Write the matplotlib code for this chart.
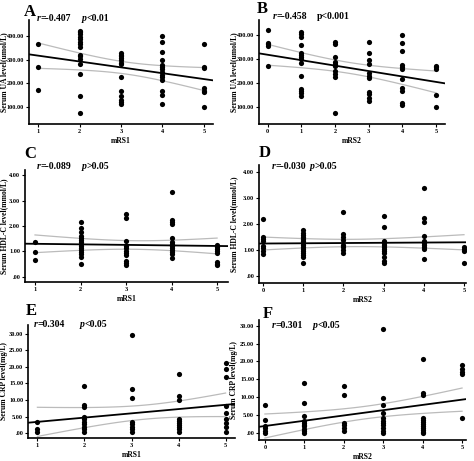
import matplotlib
matplotlib.use("Agg")
import matplotlib.pyplot as plt
import numpy as np

plt.rcParams['font.family'] = ['Liberation Serif', 'DejaVu Serif']
plt.rcParams['font.weight'] = 'bold'

# ---- data (one list of y values per mRS group) ----
# A: mRS1 vs serum UA
a_x = [1, 2, 3, 4, 5]
a_y = [
    [365, 270, 172],
    [422, 415, 408, 397, 386, 375, 366, 355, 321, 313, 301, 280, 238, 146, 76],
    [327, 321, 315, 308, 299, 287, 280, 228, 168, 146, 130, 120, 113],
    [401, 375, 334, 299, 275, 268, 259, 249, 235, 225, 214, 168, 149, 113],
    [366, 270, 263, 179, 169, 161, 99],
]
# B: mRS2 vs serum UA
b_x = [0, 1, 2, 3, 4, 5]
b_y = [
    [421, 368, 362, 354, 271],
    [414, 404, 393, 358, 324, 317, 310, 299, 282, 229, 175, 168, 160, 146],
    [372, 362, 310, 289, 279, 271, 251, 237, 226, 76],
    [372, 324, 296, 278, 240, 229, 219, 164, 154, 139, 126],
    [400, 365, 333, 275, 268, 257, 215, 178, 168, 115, 108],
    [272, 265, 257, 150, 99],
]
# C: mRS1 vs HDL-C
c_x = [1, 2, 3, 4, 5]
c_y = [
    [1.39, 0.97, 0.67],
    [2.17, 1.91, 1.78, 1.61, 1.52, 1.44, 1.36, 1.28, 1.20, 1.12, 1.05, 0.97, 0.89, 0.80, 0.50],
    [2.47, 2.30, 1.41, 1.23, 1.12, 1.02, 0.93, 0.86, 0.63, 0.54, 0.47],
    [3.35, 2.24, 2.17, 2.08, 1.54, 1.39, 1.29, 1.22, 1.12, 1.05, 0.97, 0.89, 0.73],
    [1.25, 1.18, 1.10, 1.02, 0.94, 0.60, 0.52, 0.47],
]
# D: mRS2 vs HDL-C
d_x = [0, 1, 2, 3, 4, 5]
d_y = [
    [2.18, 1.49, 1.41, 1.33, 1.15, 1.06, 0.97, 0.85],
    [1.77, 1.67, 1.56, 1.49, 1.41, 1.33, 1.26, 1.18, 1.10, 1.03, 0.95, 0.87, 0.79, 0.72, 0.51],
    [2.47, 1.60, 1.49, 1.38, 1.19, 1.10, 0.99, 0.90],
    [2.31, 1.90, 1.33, 1.26, 1.18, 1.10, 1.03, 0.95, 0.87, 0.74, 0.59, 0.51],
    [3.37, 2.22, 2.09, 1.54, 1.33, 1.26, 1.18, 1.10, 1.03, 0.64],
    [1.13, 1.05, 0.97, 0.51],
]
# E: mRS1 vs CRP
e_x = [1, 2, 3, 4, 5]
e_y = [
    [3.4, 1.1, 0.4],
    [14.2, 8.4, 7.8, 5.0, 4.1, 3.4, 2.7, 1.9, 1.1, 0.4],
    [29.7, 13.2, 10.7, 3.4, 2.7, 1.9, 1.1, 0.4],
    [17.9, 11.2, 10.0, 4.4, 3.7, 3.1, 2.4, 1.7, 1.1, 0.4],
    [21.1, 19.3, 17.1, 8.2, 6.0, 4.4, 2.9, 1.7, 0.4],
]
# F: mRS2 vs CRP
f_x = [0, 1, 2, 3, 4, 5]
f_y = [
    [7.7, 3.6, 2.0, 1.3, 0.6, 0.1],
    [13.9, 8.3, 4.8, 3.2, 2.7, 2.2, 1.8, 1.1, 0.4, 0.1],
    [13.0, 10.5, 2.7, 2.1, 1.3, 0.6],
    [29.2, 9.7, 7.9, 5.7, 4.1, 3.4, 2.7, 2.1, 1.3, 0.6, 0.1],
    [20.7, 11.1, 10.7, 4.1, 3.6, 3.0, 2.4, 1.9, 1.3, 0.7, 0.2, 0.1],
    [18.9, 17.9, 17.0, 16.4, 4.1],
]

panels = [
    dict(letter="A", gx=a_x, gy=a_y, r="=-0.407", p="<0.01", p_italic=True,
         ylabel="Serum UA level(umol/L)", xlabel="mRS1", yticks=[100, 200, 300, 400]),
    dict(letter="B", gx=b_x, gy=b_y, r="=-0.458", p="p<0.001", p_italic=False,
         ylabel="Serum UA level(umol/L)", xlabel="mRS2", yticks=[100, 200, 300, 400]),
    dict(letter="C", gx=c_x, gy=c_y, r="=-0.089", p=">0.05", p_italic=True,
         ylabel="Serum HDL-C level(mmol/L)", xlabel="mRS1", yticks=[0, 1, 2, 3, 4]),
    dict(letter="D", gx=d_x, gy=d_y, r="=-0.030", p=">0.05", p_italic=True,
         ylabel="Serum HDL-C level(mmol/L)", xlabel="mRS2", yticks=[0, 1, 2, 3, 4]),
    dict(letter="E", gx=e_x, gy=e_y, r="=0.304", p="<0.05", p_italic=True,
         ylabel="Serum CRP level(mg/L)", xlabel="mRS1", yticks=[0, 5, 10, 15, 20, 25, 30]),
    dict(letter="F", gx=f_x, gy=f_y, r="=0.301", p="<0.05", p_italic=True,
         ylabel="Serum CRP level(mg/L)", xlabel="mRS2", yticks=[0, 5, 10, 15, 20, 25, 30]),
]

# layout in pixels: (left, top, right, bottom), limits, text positions
W, H = 474, 461
boxes = [(29, 20, 213, 124), (259, 20, 445, 124),
         (25, 170, 228, 282), (259, 165, 466, 283),
         (28, 325, 235, 438), (259, 320, 466, 440)]
xlims = [(0.78, 5.22), (-0.26, 5.27), (0.78, 5.24), (-0.1, 5.05), (0.8, 5.2), (-0.15, 5.1)]
ylims = [(28, 467), (29, 462), (-0.2, 4.2), (-0.27, 4.27), (-1.5, 32.7), (-2, 31.6)]
letter_pos = [(24, 16), (257, 13), (24, 158), (259, 157), (26, 315), (263, 318)]
stat_pos = [(37, 82, 21), (273, 317, 19), (37, 82, 169), (272, 310, 169), (34, 80, 327), (272, 313, 328)]
ylabel_x = [4, 234, 4, 234, 4, 234]


def fmt(v):
    s = "%.2f" % v
    return s[1:] if s.startswith("0.") else s


fig = plt.figure(figsize=(W / 100, H / 100), dpi=100)

for pnl, (l, t, r, b), xl, yl, (lx, ly), (rx, px, sy), ylx in zip(
        panels, boxes, xlims, ylims, letter_pos, stat_pos, ylabel_x):
    ax = fig.add_axes([l / W, 1 - b / H, (r - l) / W, (b - t) / H])
    xs = np.concatenate([[g] * len(v) for g, v in zip(pnl["gx"], pnl["gy"])]).astype(float)
    ys = np.concatenate(pnl["gy"]).astype(float)
    ax.scatter(xs, ys, s=14, color="black", zorder=3, linewidths=0)

    # linear fit with 95% CI of the mean
    slope, icpt = np.polyfit(xs, ys, 1)
    n = len(xs)
    resid = ys - (slope * xs + icpt)
    se = np.sqrt(np.sum(resid ** 2) / (n - 2))
    sxx = np.sum((xs - xs.mean()) ** 2)
    xf = np.linspace(xl[0], xl[1], 100)
    ax.plot(xf, slope * xf + icpt, color="black", lw=1.3, zorder=4)
    xc = np.linspace(xs.min(), xs.max(), 100)
    band = 2.0 * se * np.sqrt(1 / n + (xc - xs.mean()) ** 2 / sxx)
    yc = slope * xc + icpt
    ax.plot(xc, yc + band, color="#bbbbbb", lw=0.9, zorder=2)
    ax.plot(xc, yc - band, color="#bbbbbb", lw=0.9, zorder=2)

    ax.set_xlim(*xl)
    ax.set_ylim(*yl)
    ax.set_xticks(pnl["gx"])
    ax.set_xticklabels([str(g) for g in pnl["gx"]])
    ax.set_yticks(pnl["yticks"])
    ax.set_yticklabels([fmt(v) for v in pnl["yticks"]])
    ax.tick_params(labelsize=4.5, length=2, width=0.8, pad=1.5)
    for s in ["top", "right"]:
        ax.spines[s].set_visible(False)
    for s in ["left", "bottom"]:
        ax.spines[s].set_linewidth(1.2)
    ax.set_xlabel(pnl["xlabel"], fontsize=5.5, fontweight="bold", labelpad=2.5)
    ax.set_ylabel(pnl["ylabel"], fontsize=5.5, fontweight="bold", va="center")
    ax.yaxis.set_label_coords((ylx - l) / (r - l), 0.5)

    fig.text(lx / W, 1 - ly / H, pnl["letter"], fontsize=12, fontweight="bold", va="baseline")
    tr = fig.text(rx / W, 1 - sy / H, "r", fontsize=7, fontweight="bold", style="italic", va="baseline")
    ax.annotate(pnl["r"], xy=(1, 0), xycoords=tr, fontsize=7, fontweight="bold",
                va="bottom", ha="left", annotation_clip=False)
    if pnl["p_italic"]:
        tp = fig.text(px / W, 1 - sy / H, "p", fontsize=7, fontweight="bold", style="italic", va="baseline")
        ax.annotate(pnl["p"], xy=(1, 0), xycoords=tp, fontsize=7, fontweight="bold",
                    va="bottom", ha="left", annotation_clip=False)
    else:
        fig.text(px / W, 1 - sy / H, pnl["p"], fontsize=7, fontweight="bold", va="baseline")

fig.savefig("out.png", dpi=100)
